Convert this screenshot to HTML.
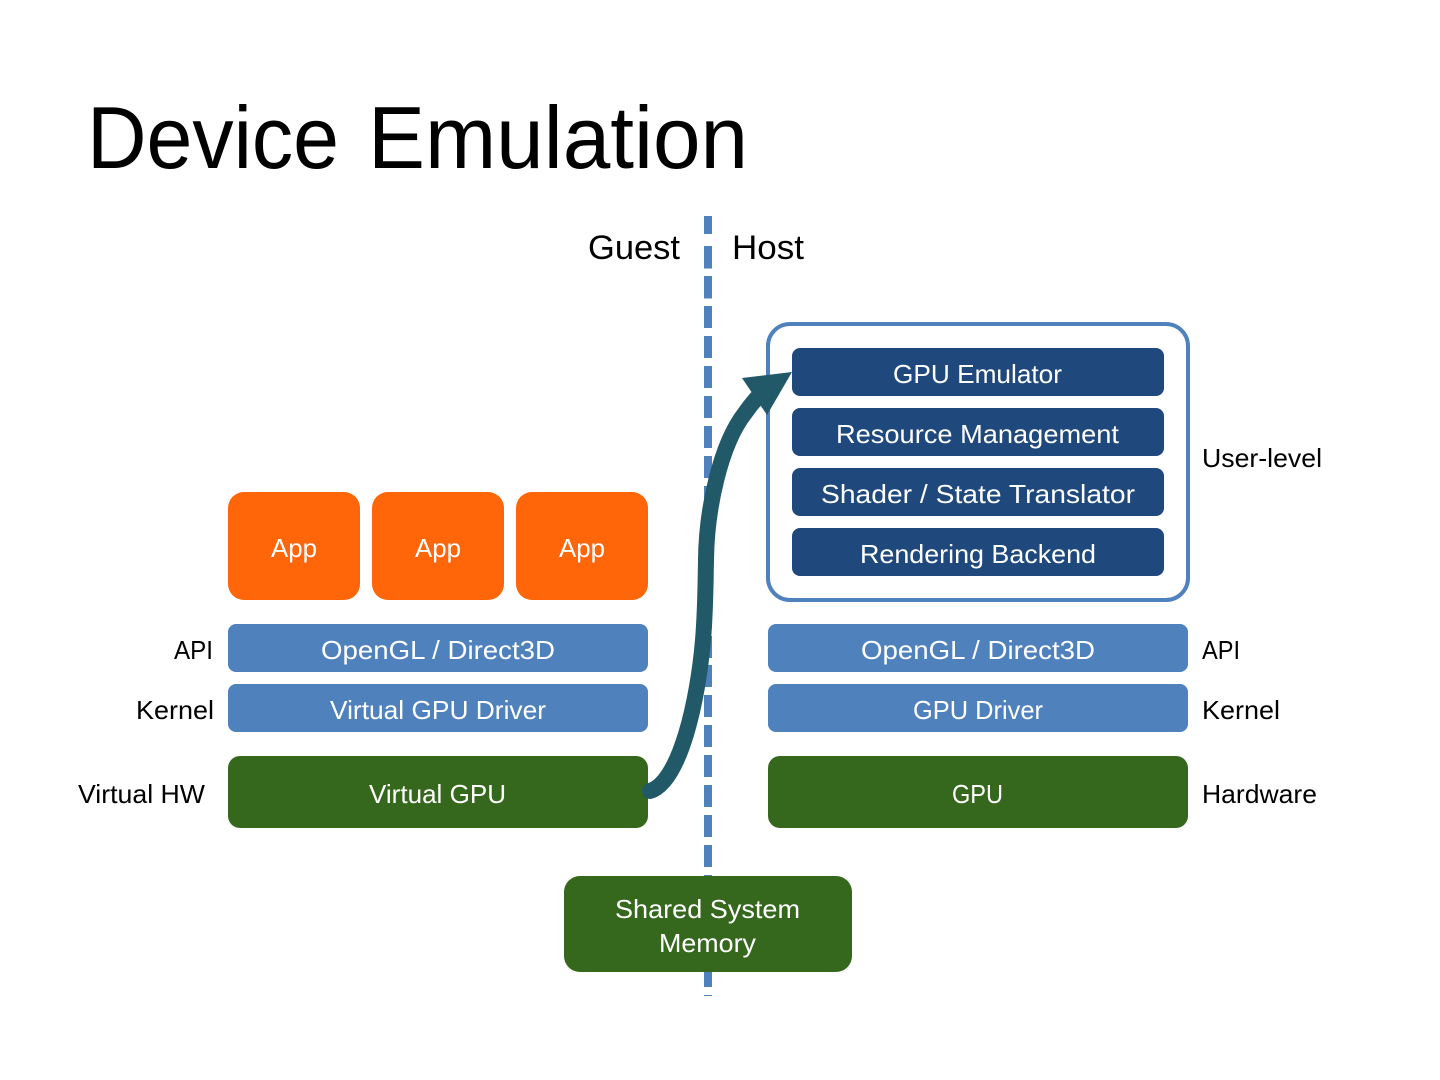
<!DOCTYPE html>
<html><head><meta charset="utf-8"><style>
html,body{margin:0;padding:0;background:#fff}
svg{display:block}
text{font-family:"Liberation Sans",sans-serif;font-size:26px}
.w{fill:#fff;text-anchor:start}
.k{fill:#000}
</style></head><body>
<svg width="1440" height="1080" viewBox="0 0 1440 1080" xmlns="http://www.w3.org/2000/svg">
<rect width="1440" height="1080" fill="#fff"/>
<text x="87" y="168" class="k" style="font-size:88px" textLength="252" lengthAdjust="spacingAndGlyphs">Device</text>
<text x="368" y="168" class="k" style="font-size:88px" textLength="380" lengthAdjust="spacingAndGlyphs">Emulation</text>
<text x="588" y="259" class="k" style="font-size:34px" textLength="92" lengthAdjust="spacingAndGlyphs">Guest</text>
<text x="732" y="259" class="k" style="font-size:34px" textLength="72" lengthAdjust="spacingAndGlyphs">Host</text>

<g fill="#4f81bd">
<rect x="704" y="216" width="8" height="18"/>
<rect x="704" y="246" width="8" height="22.5"/>
<rect x="704" y="276" width="8" height="22.5"/>
<rect x="704" y="306" width="8" height="22"/>
<rect x="704" y="336" width="8" height="22"/>
<rect x="704" y="366" width="8" height="22"/>
<rect x="704" y="396" width="8" height="22"/>
<rect x="704" y="426" width="8" height="22"/>
<rect x="704" y="456" width="8" height="22"/>
<rect x="704" y="486" width="8" height="22"/>
<rect x="704" y="516" width="8" height="22"/>
<rect x="704" y="546" width="8" height="22"/>
<rect x="704" y="576" width="8" height="22"/>
<rect x="704" y="606" width="8" height="22"/>
<rect x="704" y="636" width="8" height="22"/>
<rect x="704" y="665" width="8" height="22"/>
<rect x="704" y="695" width="8" height="22"/>
<rect x="704" y="725" width="8" height="22"/>
<rect x="704" y="755" width="8" height="22"/>
<rect x="704" y="785" width="8" height="22"/>
<rect x="704" y="815" width="8" height="22"/>
<rect x="704" y="845" width="8" height="22"/>
<rect x="704" y="875" width="8" height="22"/>
<rect x="704" y="965" width="8" height="22"/>
<rect x="704" y="995" width="8" height="1"/>
</g>

<rect x="768" y="324" width="420" height="276" rx="22" fill="none" stroke="#4f81bd" stroke-width="4"/>
<g fill="#1f497d">
<rect x="792" y="348" width="372" height="48" rx="8"/>
<rect x="792" y="408" width="372" height="48" rx="8"/>
<rect x="792" y="468" width="372" height="48" rx="8"/>
<rect x="792" y="528" width="372" height="48" rx="8"/>
</g>
<g fill="#ff6509">
<rect x="228" y="492" width="132" height="108" rx="16"/>
<rect x="372" y="492" width="132" height="108" rx="16"/>
<rect x="516" y="492" width="132" height="108" rx="16"/>
</g>
<g fill="#4f81bd">
<rect x="228" y="624" width="420" height="48" rx="8"/>
<rect x="228" y="684" width="420" height="48" rx="8"/>
<rect x="768" y="624" width="420" height="48" rx="8"/>
<rect x="768" y="684" width="420" height="48" rx="8"/>
</g>
<g fill="#35681d">
<rect x="228" y="756" width="420" height="72" rx="12"/>
<rect x="768" y="756" width="420" height="72" rx="12"/>
<rect x="564" y="876" width="288" height="96" rx="16"/>
</g>

<path d="M650 791 C680 782 698 700 703 640 C705.5 610 705.5 585 706 560 C706.5 510 720 445 745 413 C752 403 760 394 768 386" fill="none" stroke="#215968" stroke-width="16" stroke-linecap="round"/>
<polygon points="742,378 792,372 767,415" fill="#215968"/>

<g class="w">
<text class="w" x="271" y="557" textLength="46" lengthAdjust="spacingAndGlyphs">App</text>
<text class="w" x="415" y="557" textLength="46" lengthAdjust="spacingAndGlyphs">App</text>
<text class="w" x="559" y="557" textLength="46" lengthAdjust="spacingAndGlyphs">App</text>
<text class="w" x="893" y="383" textLength="169" lengthAdjust="spacingAndGlyphs">GPU Emulator</text>
<text class="w" x="836" y="443" textLength="283" lengthAdjust="spacingAndGlyphs">Resource Management</text>
<text class="w" x="821" y="503" textLength="314" lengthAdjust="spacingAndGlyphs">Shader / State Translator</text>
<text class="w" x="860" y="563" textLength="236" lengthAdjust="spacingAndGlyphs">Rendering Backend</text>
<text class="w" x="321" y="659" textLength="234" lengthAdjust="spacingAndGlyphs">OpenGL / Direct3D</text>
<text class="w" x="861" y="659" textLength="234" lengthAdjust="spacingAndGlyphs">OpenGL / Direct3D</text>
<text class="w" x="330" y="719" textLength="216" lengthAdjust="spacingAndGlyphs">Virtual GPU Driver</text>
<text class="w" x="913" y="719" textLength="130" lengthAdjust="spacingAndGlyphs">GPU Driver</text>
<text class="w" x="369" y="803" textLength="137" lengthAdjust="spacingAndGlyphs">Virtual GPU</text>
<text class="w" x="952" y="803" textLength="51" lengthAdjust="spacingAndGlyphs">GPU</text>
<text class="w" x="615" y="918" textLength="185" lengthAdjust="spacingAndGlyphs">Shared System</text>
<text class="w" x="659" y="952" textLength="97" lengthAdjust="spacingAndGlyphs">Memory</text>
</g>
<g>
<text class="k" x="174" y="659" textLength="39" lengthAdjust="spacingAndGlyphs">API</text>
<text class="k" x="136" y="719" textLength="78" lengthAdjust="spacingAndGlyphs">Kernel</text>
<text class="k" x="78" y="803" textLength="127" lengthAdjust="spacingAndGlyphs">Virtual HW</text>
<text class="k" x="1202" y="467" textLength="120" lengthAdjust="spacingAndGlyphs">User-level</text>
<text class="k" x="1202" y="659" textLength="38" lengthAdjust="spacingAndGlyphs">API</text>
<text class="k" x="1202" y="719" textLength="78" lengthAdjust="spacingAndGlyphs">Kernel</text>
<text class="k" x="1202" y="803" textLength="115" lengthAdjust="spacingAndGlyphs">Hardware</text>
</g>
</svg>
</body></html>
